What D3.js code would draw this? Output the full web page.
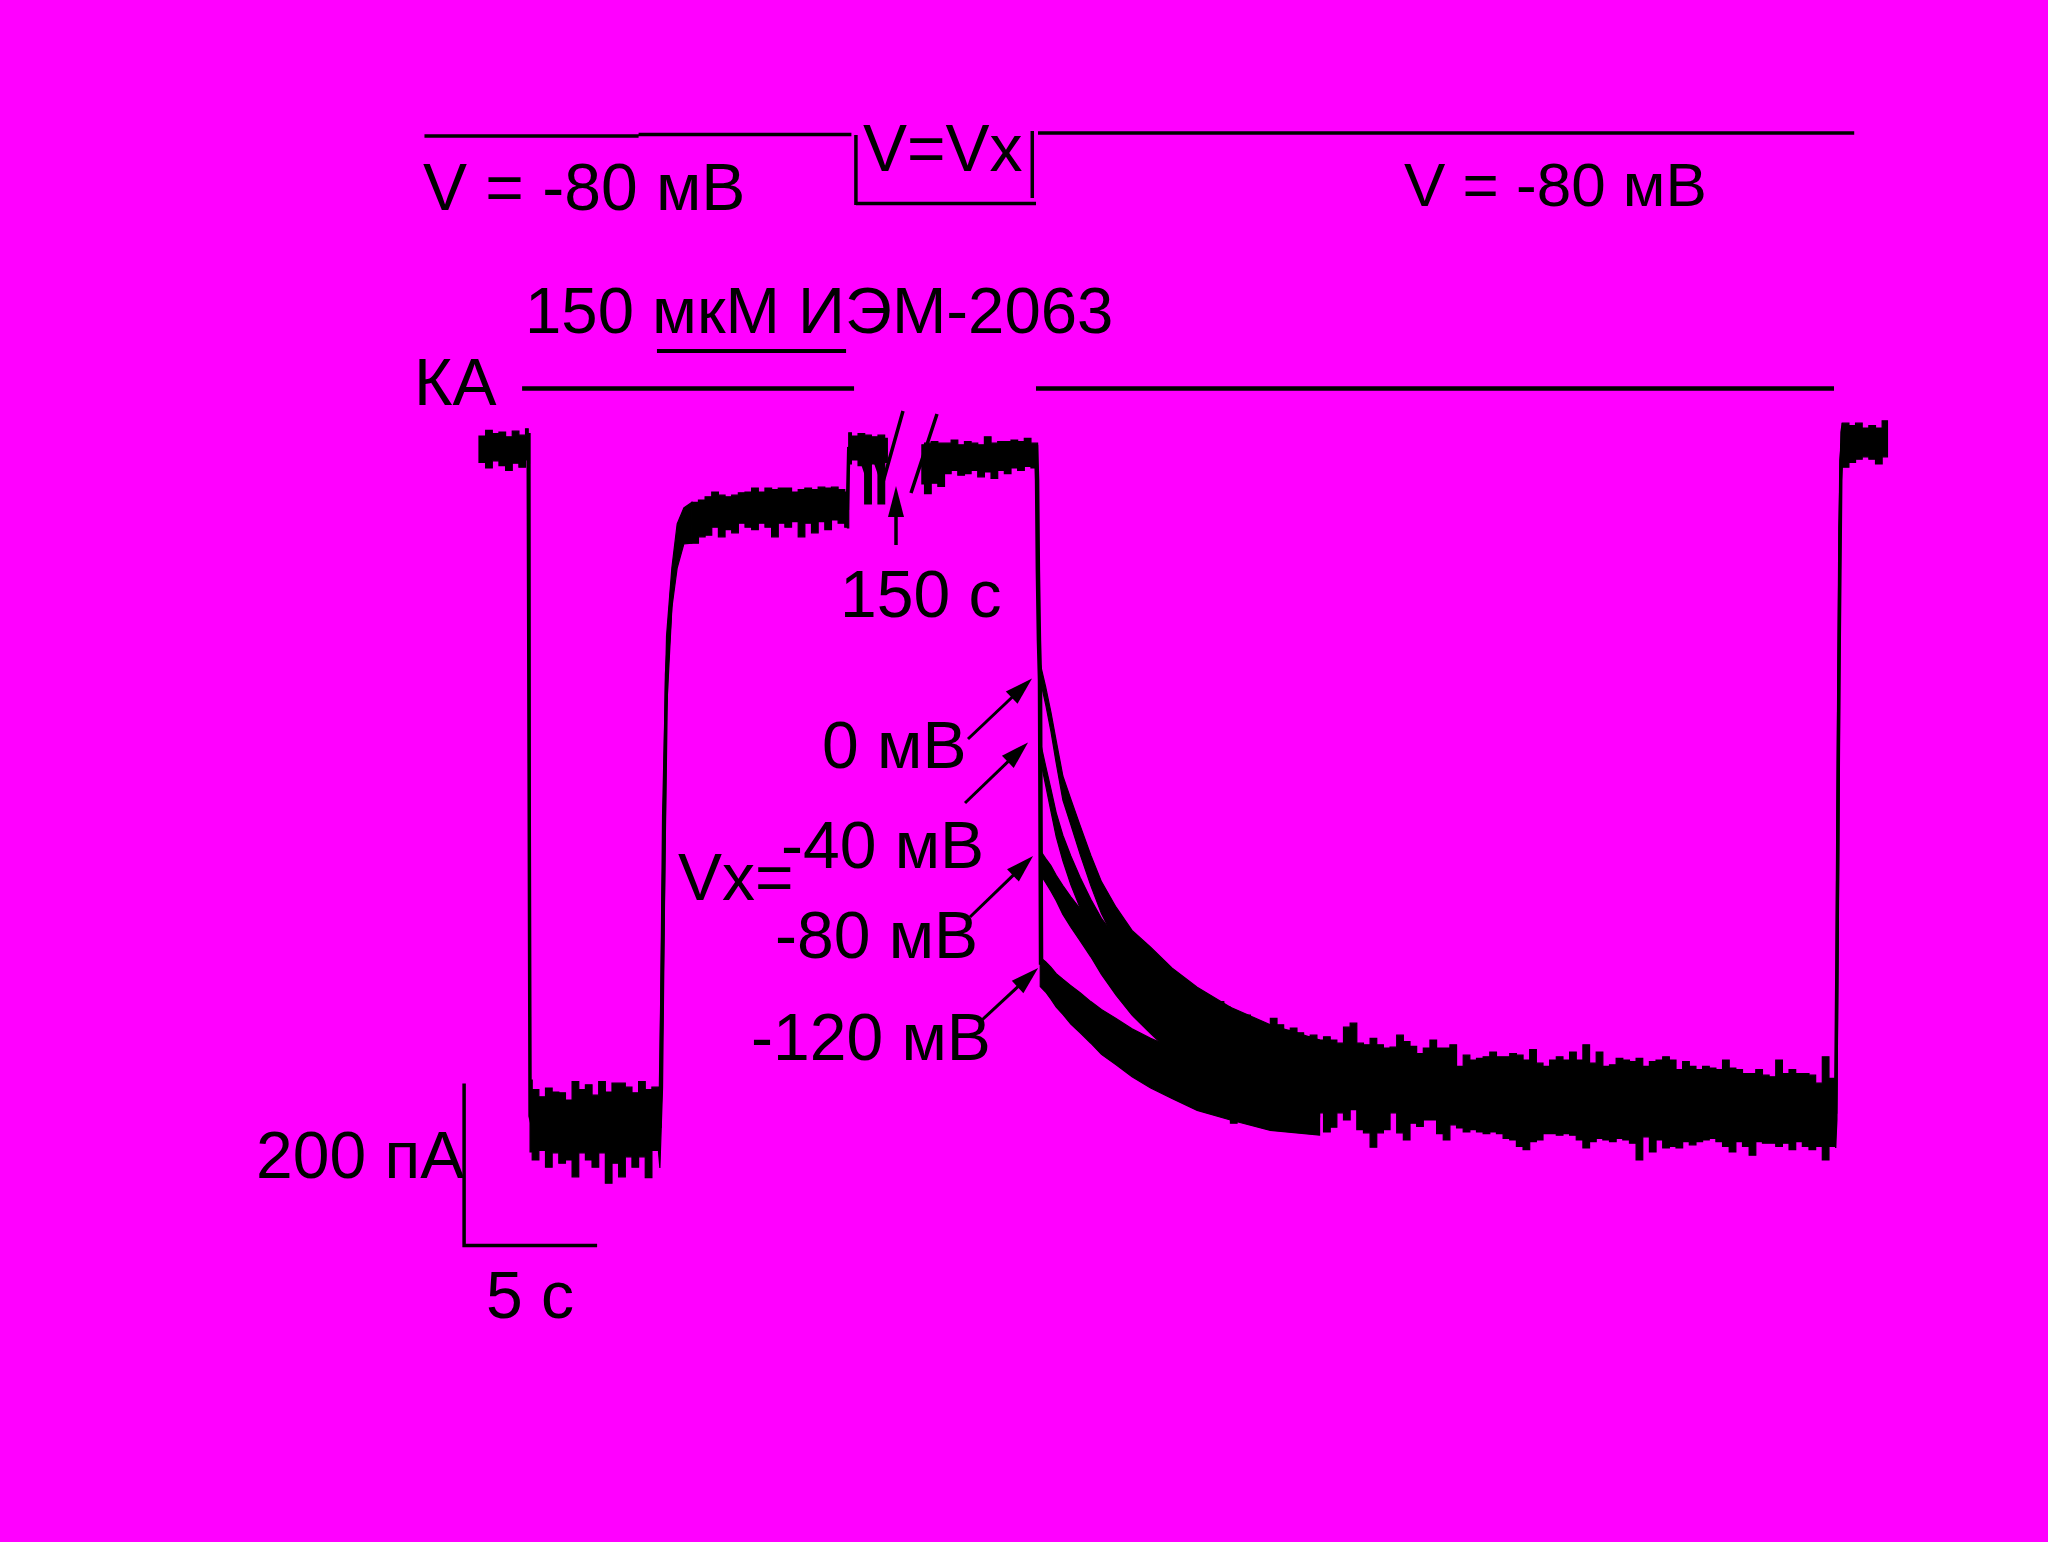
<!DOCTYPE html>
<html><head><meta charset="utf-8">
<script src="https://cdn.jsdelivr.net/npm/d3@7"></script>
<style>
html,body{margin:0;padding:0;background:#ff00ff;}
svg{display:block;}
text{font-family:"Liberation Sans",Arial,sans-serif;font-size:66px;fill:#000;}
</style>
</head><body>
<svg id="chart" width="2048" height="1542"></svg>
<script>
// ---------- DATA (time in s, current in pA) ----------
// Main trace before the 150 s break: time, upper and lower edge of the noisy trace
const mainT  = [0,0.25,0.5,0.75,1,1.25,1.5,1.75,1.85,1.92,
  2,2.25,2.5,2.75,3,3.25,3.5,3.75,4,4.25,4.5,4.75,5,5.25,5.5,5.75,6,6.25,6.5,6.75,
  6.8,6.9,7.05,7.25,7.45,7.7,
  8,8.25,8.5,8.75,9,9.25,9.5,9.75,10,10.25,10.5,10.75,11,11.25,11.5,11.75,12,12.25,12.5,12.75,13,13.25,13.5,13.75,
  13.85,13.9,14,14.25,14.5,14.75,15,15.25,15.35];
const mainHi = [15,22,18,20,14,21,16,24,18,-790,
  -802,-811,-800,-805,-806,-815,-792,-802,-796,-809,-792,-805,-794,-794,-799,-806,-792,-802,-799,-800,
  -800,-460,-235,-150,-95,-75,
  -68,-65,-61,-55,-59,-61,-59,-56,-55,-50,-55,-50,-52,-50,-50,-55,-52,-50,-52,-49,-50,-49,-52,-55,
  -52,19,15,18,16,14,16,12,12];
const mainLo = [-18,-25,-16,-22,-28,-19,-24,-15,-20,-880,
  -890,-878,-899,-881,-894,-890,-911,-881,-890,-899,-881,-919,-894,-911,-886,-899,-886,-912,-878,-881,
  -900,-800,-330,-200,-150,-120,
  -119,-111,-109,-99,-111,-102,-106,-94,-99,-102,-94,-99,-111,-94,-99,-92,-111,-94,-106,-92,-102,-90,-94,-99,
  -100,-20,-15,-22,-70,-20,-70,-18,-18];

// After the break (V = Vx step)
const afterT  = [16.65,16.75,17,17.25,17.5,17.75,18,18.25,18.5,18.75,19,19.25,19.5,19.75,20,20.25,20.5,20.75,21];
const afterHi = [4,6,8,6,6,10,4,8,6,4,14,6,8,8,10,8,12,6,4];
const afterLo = [-45,-57,-44,-48,-32,-28,-34,-32,-28,-36,-30,-38,-28,-32,-25,-28,-23,-25,-23];

// Fast drop on return to -80 mV
const dropT = [20.94,20.98,21.01,21.05,21.09,21.13];
const dropI = [4,-40,-152,-240,-290,-646];

// Recovery from block for the four Vx values (trace centre and noise half-amplitude)
const decayT    = [21.1,21.3,21.5,21.7,21.95,22.25,22.6,23.0,23.4,23.95,24.55,25.25,26.05,27.0,28.25,29.75,31.6];
const decay0    = [-280,-309,-342,-380,-425,-455,-490,-528,-562,-596,-628,-652,-680,-706,-734,-759,-780];
const decay40   = [-378,-409,-440,-471,-500,-528,-556,-584,-609,-636,-661,-684,-706,-728,-750,-771,-788];
const decay80   = [-518,-528,-538,-550,-565,-580,-596,-615,-636,-659,-681,-702,-725,-746,-765,-784,-796];
const decay120  = [-655,-661,-669,-678,-686,-696,-706,-718,-730,-742,-756,-769,-781,-794,-805,-815,-819];
const noise0    = [10,11,12,14,15,16,18,19,20,22,25,28,30,32,35,38,40];
const noise40   = [11,12,14,15,16,18,19,20,21,24,26,29,31,34,36,39,40];
const noise80   = [15,15,16,16,18,19,20,21,22,25,28,30,32,35,38,39,40];
const noise120  = [18,19,20,21,22,24,25,26,28,29,30,31,32,34,35,38,40];

// Steady-state part (superimposed traces), sampled every 0.25 s from 27 s
const steadyT0 = 27, steadyDt = 0.25;
const steadyHi = [-681,-688,-692,-692,-699,-711,-713,-709,-717,-719,-724,-713,-721,-728,-725,-731,-736,-734,-740,-736,
  -740,-744,-724,-719,-744,-746,-738,-746,-750,-749,-734,-742,-748,-757,-750,-740,-750,-750,-746,-773,
  -759,-765,-763,-761,-755,-761,-761,-757,-759,-765,-752,-769,-773,-765,-761,-765,-755,-765,-746,-769,
  -755,-773,-771,-763,-765,-767,-763,-773,-767,-765,-761,-765,-777,-767,-773,-777,-773,-775,-777,-765,
  -775,-777,-782,-782,-777,-784,-786,-765,-782,-777,-782,-782,-784,-794,-761,-788];
const steadyLo = [-819,-815,-821,-815,-819,-844,-840,-824,-831,-840,-840,-827,-827,-844,-824,-831,-827,-824,-831,-855,
  -849,-831,-840,-827,-852,-856,-874,-856,-852,-831,-856,-865,-844,-848,-840,-840,-857,-865,-846,-850,
  -855,-852,-855,-857,-855,-857,-863,-865,-873,-877,-867,-865,-857,-857,-859,-857,-859,-865,-875,-867,
  -863,-865,-867,-863,-865,-869,-890,-861,-880,-865,-875,-873,-875,-867,-871,-867,-865,-863,-867,-873,
  -880,-867,-873,-884,-867,-869,-869,-873,-869,-877,-867,-873,-877,-873,-890,-873];

// Washout of KA at the end
const endT  = [51,51.05,51.12,51.2,51.25,51.5,51.75,52,52.25,52.5,52.75,52.95];
const endHi = [-785,-450,-100,20,31,28,31,25,28,25,34,34];
const endLo = [-875,-840,-500,-50,-24,-18,-14,-11,-14,-20,-11,-8];

// Smooth (non-noisy) transitions, s
const smoothWindows = [[6.75,8.0],[50.99,51.25]];

// Application bars and voltage protocol (s)
const kaBars   = [[1.62,14.1],[20.94,50.94]];
const iemBar   = [6.69,13.8];
const vxStep   = [14.17,20.8];
const protocolSpan = [-2.05,6.0,14.0,51.7];
// Vx labels and arrow tips (s, pA)
const vxLabels = ["0 мВ","-40 мВ","-80 мВ","-120 мВ"];
const vxTipT   = [20.79,20.64,20.83,21.02];
const vxTipI   = [-288,-368,-510,-650];
// Scale bar
const sbT = -0.56, sbI = -997, sbDT = 5, sbDI = 200;

// ---------- SCALES ----------
const x = d3.scaleLinear().domain([0,5]).range([479,612]);      // 5 s = 133 px
const y = d3.scaleLinear().domain([0,-200]).range([448,608]);   // 200 pA = 160 px

const svg = d3.select("#chart");
svg.append("rect").attr("width",2048).attr("height",1542).attr("fill","#ff00ff");
const g = svg.append("g");

const zip = (T,H,L)=>T.map((t,i)=>[t,H[i],L[i]]);
const inSmooth = t=>smoothWindows.some(w=>t>=w[0]-1e-9 && t<=w[1]+1e-9);
function bandPath(data, curve){
  return d3.area().x(d=>x(d[0])).y0(d=>y(d[2])).y1(d=>y(d[1])).curve(curve)(data);
}
function drawTrace(data){
  // split into noisy (step) and smooth (linear) pieces
  let start=0;
  const typeOf = i=> (inSmooth(data[i][0]) && inSmooth(data[i+1][0])) ? "lin" : "step";
  let cur = typeOf(0);
  for(let i=1;i<=data.length-1;i++){
    const tp = i<data.length-1 ? typeOf(i) : null;
    if(tp!==cur){
      const seg=data.slice(start,i+1);
      g.append("path").attr("d",bandPath(seg, cur==="lin"?d3.curveLinear:d3.curveStepAfter))
        .attr("fill","#000").attr("stroke","#000").attr("stroke-width",1.2);
      start=i; cur=tp;
    }
  }
  const mid = d3.line().x(d=>x(d[0])).y(d=>y((d[1]+d[2])/2));
  g.append("path").attr("d",mid(data)).attr("fill","none").attr("stroke","#000").attr("stroke-width",3.5);
}
drawTrace(zip(mainT,mainHi,mainLo));
drawTrace(zip(afterT,afterHi,afterLo));
const steadyT = steadyHi.map((_,i)=>steadyT0+i*steadyDt);
drawTrace(zip(steadyT.concat(endT), steadyHi.concat(endHi), steadyLo.concat(endLo)));

// decays
[[decay0,noise0],[decay40,noise40],[decay80,noise80],[decay120,noise120]].forEach(([c,n])=>{
  g.append("path").attr("d",bandPath(decayT.map((t,i)=>[t,c[i]+n[i],c[i]-n[i]]), d3.curveLinear))
    .attr("fill","#000").attr("stroke","#000").attr("stroke-width",1.2);
});

const line = d3.line().x(d=>x(d[0])).y(d=>y(d[1]));
g.append("path").attr("d",line(dropT.map((t,i)=>[t,dropI[i]]))).attr("fill","none").attr("stroke","#000").attr("stroke-width",4.5);

// ---------- ANNOTATIONS ----------
const blk = sel=>sel.attr("stroke","#000").attr("fill","none");
// voltage protocol
blk(g.append("path").attr("d",
  `M${x(protocolSpan[0])},136 H${x(protocolSpan[1])} M${x(protocolSpan[1])},134.5 H${x(protocolSpan[2])}`).attr("stroke-width",3.5));
blk(g.append("path").attr("d",
  `M${x(vxStep[0])},135 V205 M${x(vxStep[0])},203.5 H1036`).attr("stroke-width",3.5));
blk(g.append("path").attr("d",
  `M${x(vxStep[1])},131 V198 M1038,133 H${x(protocolSpan[3])}`).attr("stroke-width",3.5));

// KA and IEM bars
kaBars.forEach(b=>blk(g.append("line").attr("x1",x(b[0])).attr("x2",x(b[1])).attr("y1",388.5).attr("y2",388.5).attr("stroke-width",4.5)));
blk(g.append("line").attr("x1",x(iemBar[0])).attr("x2",x(iemBar[1])).attr("y1",351).attr("y2",351).attr("stroke-width",4));

// break marks
blk(g.append("path").attr("d","M883,482 L903,411 M911,493 L937,414").attr("stroke-width",3.5));
// 150 s arrow
blk(g.append("line").attr("x1",896).attr("x2",896).attr("y1",545).attr("y2",512).attr("stroke-width",3.5));
g.append("path").attr("d","M896,486 L888,517 L904,517 Z").attr("fill","#000");

// Vx arrows
function arrow(tx,ty,sx,sy){
  const len=Math.hypot(tx-sx,ty-sy), dx=(tx-sx)/len, dy=(ty-sy)/len;
  const hl=28, hw=8.5;
  const bx=tx-dx*hl, by=ty-dy*hl;
  blk(g.append("line").attr("x1",sx).attr("y1",sy).attr("x2",bx+dx*2).attr("y2",by+dy*2).attr("stroke-width",3));
  g.append("path").attr("d",`M${tx},${ty} L${bx-dy*hw},${by+dx*hw} L${bx+dy*hw},${by-dx*hw} Z`).attr("fill","#000");
}
const tails = [[968,739],[965,803],[970,917],[982,1020]];
vxTipT.forEach((t,i)=>arrow(x(t), y(vxTipI[i]), tails[i][0], tails[i][1]));

// scale bar
blk(g.append("path").attr("d",
  `M${x(sbT)},${y(sbI+sbDI)-2} V${y(sbI)} H${x(sbT+sbDT)}`).attr("stroke-width",3.5).attr("stroke-linejoin","miter"));

// ---------- TEXT ----------
const txt = (s,tx,ty,fs)=>{const t=g.append("text").attr("x",tx).attr("y",ty).text(s); if(fs) t.style("font-size",fs+"px"); return t;};
txt("V = -80 мВ",423,210);
txt("V=Vx",863,171);
txt("V = -80 мВ",1404,206,62);
txt("150 мкМ ИЭМ-2063",525,333,65.3);
txt("КА",414,405);
txt("150 с",840,617);
const vxLabelX = [822,781,775,751], vxLabelY=[768,868,958,1060];
vxLabels.forEach((s,i)=>txt(s,vxLabelX[i],vxLabelY[i]));
txt("Vx=",678,900);
txt("200 пА",256,1178);
txt("5 с",486,1318);
</script>
</body></html>
